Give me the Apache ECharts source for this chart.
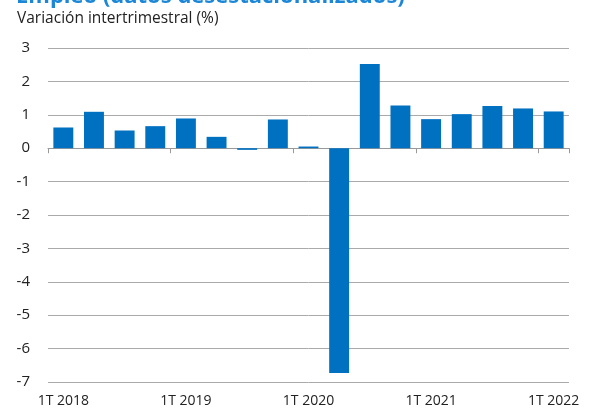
<!DOCTYPE html>
<html>
<head>
<meta charset="utf-8">
<script src="https://cdn.jsdelivr.net/npm/echarts@6/dist/echarts.min.js"></script>
<style>
  html, body {margin: 0; padding: 0; background: #fff;}
  #chart {width: 594px; height: 416px;}
</style>
</head>
<body>
<div id="chart"></div>
<script>
const quarters = [
    "1T 2018", "2T 2018", "3T 2018", "4T 2018",
    "1T 2019", "2T 2019", "3T 2019", "4T 2019",
    "1T 2020", "2T 2020", "3T 2020", "4T 2020",
    "1T 2021", "2T 2021", "3T 2021", "4T 2021",
    "1T 2022"
];
const variation = [0.62, 1.09, 0.53, 0.66, 0.89, 0.34, -0.05, 0.86, 0.05, -6.73, 2.52, 1.28, 0.87, 1.02, 1.26, 1.19, 1.10];
const titleText = "Empleo (datos desestacionalizados)";
const subtitleText = "Variación intertrimestral (%)";

const font = "'Open Sans', 'Noto Sans', sans-serif";
const myChart = echarts.init(document.getElementById("chart"));
myChart.setOption({
    animation: false,
    title: [
        {
            text: titleText,
            left: 11,
            top: -19,
            textStyle: {color: "#1B87D6", fontSize: 22, fontWeight: "bold", fontFamily: font}
        },
        {
            text: subtitleText,
            left: 12,
            top: 6,
            textStyle: {color: "#222", fontSize: 15.5, fontWeight: "normal", fontFamily: font}
        }
    ],
    grid: {left: 48, right: 25, top: 48, bottom: 34, containLabel: false, outerBoundsMode: "none"},
    xAxis: [
        {
            type: "category",
            data: quarters,
            axisLine: {onZero: true, lineStyle: {color: "#999", width: 1}},
            axisTick: {show: true, interval: 3, length: 5, lineStyle: {color: "#999"}},
            axisLabel: {show: false}
        },
        {
            type: "category",
            data: quarters,
            position: "bottom",
            axisLine: {show: false, onZero: false},
            axisTick: {show: false},
            axisLabel: {
                interval: 3,
                margin: 12,
                color: "#222",
                fontSize: 14,
                fontFamily: font
            }
        }
    ],
    yAxis: {
        type: "value",
        min: -7,
        max: 3,
        interval: 1,
        axisLine: {show: false},
        axisTick: {show: false},
        splitLine: {lineStyle: {color: "#aaa", width: 1}},
        axisLabel: {color: "#222", fontSize: 15, fontFamily: font, margin: 18}
    },
    series: [{
        type: "bar",
        data: variation,
        barCategoryGap: "35%",
        itemStyle: {color: "#0070C0"}
    }]
});
</script>
</body>
</html>
